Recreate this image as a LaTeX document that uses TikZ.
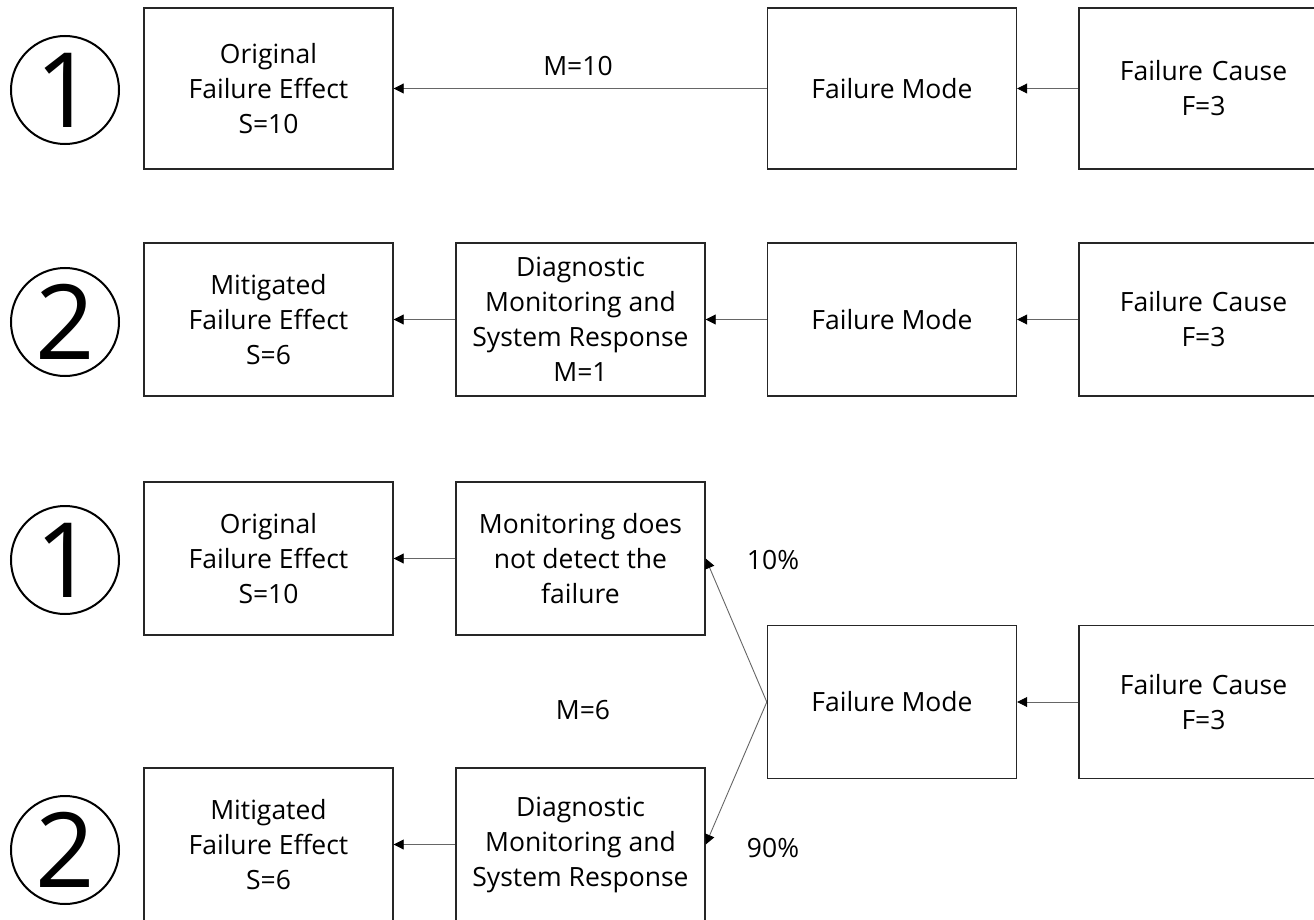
\documentclass[tikz,border=0pt]{standalone}
\usepackage{fontspec}
\setmainfont{Open Sans}
\usetikzlibrary{arrows.meta}
\begin{document}
\begin{tikzpicture}[x=1pt,y=-1pt,
  box/.style={draw=black!85,line width=1.4pt,fill=white,align=center,inner sep=0pt,
    font=\fontsize{26.5}{35}\selectfont,minimum width=249pt},
  arr/.style={draw=black!60,line width=0.9pt,-{Triangle[length=10pt,width=10pt,black]}},
  lbl/.style={font=\fontsize{26.5}{35}\selectfont,inner sep=0pt},
  circ/.style={circle,draw=black,line width=2pt,minimum size=108pt,inner sep=0pt,
    font=\fontsize{104}{104}\selectfont}]
\useasboundingbox (0,0) rectangle (1314,920);
\clip (0,0) rectangle (1314,920);
% row 1
\node[circ] (c1) at (65,90) {1};
\node[box,minimum height=161pt] (a1) at (268.5,88.5) {Original\\Failure Effect\\S=10};
\node[box,minimum height=161pt] (fm1) at (892,88.5) {Failure Mode};
\node[box,minimum height=161pt,text width=249pt] (fc1) at (1203.5,88.5) {Failure Cause\\F=3};
\draw[arr] (fc1.west) -- (fm1.east);
\draw[arr] (fm1.west) -- (a1.east);
\node[lbl] (m10) at (578,66) {M=10};
% row 2
\node[circ] (c2) at (65,322) {2};
\node[box,minimum height=153pt] (a2) at (268.5,319.5) {Mitigated\\Failure Effect\\S=6};
\node[box,minimum height=153pt] (d2) at (580.5,319.5) {Diagnostic\\Monitoring and\\System Response\\M=1};
\node[box,minimum height=153pt] (fm2) at (892,319.5) {Failure Mode};
\node[box,minimum height=153pt,text width=249pt] (fc2) at (1203.5,319.5) {Failure Cause\\F=3};
\draw[arr] (fc2.west) -- (fm2.east);
\draw[arr] (fm2.west) -- (d2.east);
\draw[arr] (d2.west) -- (a2.east);
% rows 3-4
\node[circ] (c3) at (65,560) {1};
\node[box,minimum height=153pt] (a3) at (268.5,558.5) {Original\\Failure Effect\\S=10};
\node[box,minimum height=153pt] (n3) at (580.5,558.5) {Monitoring does\\not detect the\\failure};
\node[box,minimum height=153pt] (fm3) at (892,702) {Failure Mode};
\node[box,minimum height=153pt,text width=249pt] (fc3) at (1203.5,702) {Failure Cause\\F=3};
\node[circ] (c4) at (65,850) {2};
\node[box,minimum height=153pt] (a4) at (268.5,844.5) {Mitigated\\Failure Effect\\S=6};
\node[box,minimum height=153pt] (d4) at (580.5,844.5) {Diagnostic\\Monitoring and\\System Response};
\draw[arr] (fc3.west) -- (fm3.east);
\draw[arr] (fm3.west) -- (n3.east);
\draw[arr] (fm3.west) -- (d4.east);
\draw[arr] (n3.west) -- (a3.east);
\draw[arr] (d4.west) -- (a4.east);
\node[lbl] (p10) at (773,560) {10\%};
\node[lbl] (p90) at (773,848) {90\%};
\node[lbl] (m6) at (583,710) {M=6};
\end{tikzpicture}
\end{document}
